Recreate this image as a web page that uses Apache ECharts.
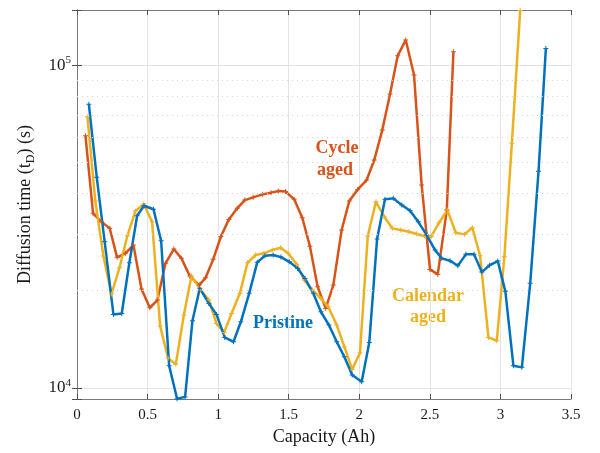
<!DOCTYPE html>
<html>
<head>
<meta charset="utf-8">
<script src="https://cdn.jsdelivr.net/npm/echarts@6/dist/echarts.min.js"></script>
<style>
  html, body { margin: 0; padding: 0; background: #fff; }
  #main { width: 600px; height: 453px; }
</style>
</head>
<body>
<div id="main"></div>
<script>
// capacity (Ah) and diffusion time (s)
var pristineX = [0.084,0.140,0.196,0.258,0.317,0.371,0.426,0.475,0.542,0.596,0.653,0.709,0.766,0.818,0.870,0.934,0.988,1.047,1.109,1.161,1.220,1.277,1.331,1.390,1.445,1.504,1.563,1.615,1.674,1.728,1.785,1.840,1.894,1.950,2.017,2.071,2.126,2.182,2.241,2.301,2.360,2.418,2.478,2.537,2.584,2.643,2.698,2.755,2.813,2.868,2.922,2.981,3.035,3.092,3.152,3.211,3.270,3.322];
var pristineY = [75700,44950,28380,16890,17000,24420,34170,36690,35800,28580,11700,9250,9370,16140,20340,18270,16890,14330,13890,16020,19630,24490,25670,25800,25430,24590,23460,21840,19630,17210,15650,13890,12480,10950,10440,13830,28920,38410,38680,36870,35400,32720,29760,26740,25200,24770,23900,25930,25930,22850,23970,24720,19910,11700,11570,21080,46910,112900];

var cycleX = [0.060,0.114,0.173,0.232,0.284,0.343,0.400,0.457,0.516,0.570,0.627,0.686,0.740,0.799,0.866,0.911,0.965,1.019,1.076,1.135,1.189,1.248,1.315,1.374,1.426,1.478,1.539,1.596,1.650,1.705,1.762,1.816,1.875,1.929,1.989,2.052,2.106,2.163,2.218,2.272,2.329,2.388,2.442,2.501,2.556,2.620,2.667];
var cycleY = [60470,34760,32720,31220,25380,26120,27700,20240,17710,18710,24320,26930,25200,22210,20820,21940,25020,29410,33290,36020,38210,38960,39800,40250,40740,40600,38410,33680,27500,20570,17630,20820,30850,37940,41240,44080,50850,63000,81480,107100,119800,93300,42540,23290,22470,35580,110200];

var calendarX = [0.074,0.130,0.187,0.244,0.301,0.357,0.414,0.473,0.532,0.589,0.646,0.700,0.757,0.811,0.877,0.934,0.988,1.043,1.095,1.154,1.208,1.265,1.324,1.383,1.442,1.496,1.556,1.610,1.667,1.728,1.780,1.840,1.894,1.950,2.005,2.060,2.118,2.177,2.234,2.294,2.352,2.407,2.461,2.509,2.565,2.624,2.684,2.745,2.801,2.856,2.915,2.974,3.028,3.081,3.140];
var calendarY = [69270,37940,25620,19530,23560,29620,35330,37130,32720,15540,12340,11820,16810,22210,20090,18710,15840,14850,17010,19630,24420,25800,26120,26740,27190,26120,24150,21590,20090,18940,17830,15650,13410,11410,12840,29550,37750,33920,31220,30850,30470,29980,29550,29410,32500,35580,30260,29910,31360,25670,14330,13990,25490,57300,148000];

var minorGrid = [20000,30000,40000,50000,60000,70000,80000,90000];

var blue = '#0072BD', orange = '#D95319', yellow = '#EDB120';
var serif = 'Liberation Serif';

function pairs(xs, ys) {
    var out = [];
    for (var i = 0; i < xs.length; i++) out.push([xs[i], ys[i]]);
    return out;
}

var plusMark = 'path://M4,0h2v4h4v2h-4v4h-2v-4h-4v-2h4z';

function lineSeries(name, xs, ys, color) {
    return {
        name: name,
        type: 'line',
        data: pairs(xs, ys),
        symbol: plusMark,
        symbolSize: 5,
        showSymbol: true,
        lineStyle: { color: color, width: 2.5 },
        itemStyle: { color: color },
        z: 3
    };
}

var chart = echarts.init(document.getElementById('main'));

var option = {
    animation: false,
    grid: { left: 77, right: 29, top: 10, bottom: 54 },
    xAxis: [{
        type: 'value', min: 0, max: 3.5, interval: 0.5,
        name: 'Capacity (Ah)', nameLocation: 'middle', nameGap: 27,
        nameTextStyle: { fontFamily: serif, fontSize: 18, color: '#1a1a1a' },
        axisLine: { show: true, lineStyle: { color: '#7a7a7a', width: 1 } },
        axisTick: { show: true, inside: true, length: 5, lineStyle: { color: '#505050' } },
        axisLabel: { fontFamily: serif, fontSize: 15, color: '#1a1a1a', margin: 9 },
        splitLine: { show: true, lineStyle: { color: '#e3e3e3', width: 1 } }
    }, {
        type: 'value', min: 0, max: 3.5, interval: 0.5, position: 'top',
        axisLine: { show: true, lineStyle: { color: '#7a7a7a', width: 1 } },
        axisTick: { show: true, inside: true, length: 5, lineStyle: { color: '#505050' } },
        axisLabel: { show: false },
        splitLine: { show: false }
    }],
    yAxis: [{
        type: 'log', logBase: 10, min: 9230, max: 148500,
        name: '{a|Diffusion time (t}{sub|D}{a|) (s)}',
        nameLocation: 'middle', nameGap: 40,
        nameTextStyle: {
            rich: {
                a: { fontFamily: serif, fontSize: 18, color: '#1a1a1a' },
                sub: { fontFamily: serif, fontSize: 12, color: '#1a1a1a', padding: [11, 0, 0, 0] }
            }
        },
        axisLine: { show: true, lineStyle: { color: '#7a7a7a', width: 1 } },
        axisTick: { show: true, inside: true, length: 5, lineStyle: { color: '#505050' } },
        axisLabel: {
            fontFamily: serif, fontSize: 17, color: '#1a1a1a', margin: 6,
            formatter: function (v) {
                var e = Math.log10(v);
                if (Math.abs(e - Math.round(e)) < 1e-6) return '{b|10}{sup|' + Math.round(e) + '}';
                return '';
            },
            rich: {
                b: { fontFamily: serif, fontSize: 17, color: '#1a1a1a' },
                sup: { fontFamily: serif, fontSize: 11, color: '#1a1a1a', padding: [0, 0, 10, 0] }
            }
        },
        splitLine: { show: true, lineStyle: { color: '#e3e3e3', width: 1 } }
    }, {
        type: 'log', logBase: 10, min: 9230, max: 148500, position: 'right',
        axisLine: { show: true, lineStyle: { color: '#7a7a7a', width: 1 } },
        axisTick: { show: true, inside: true, length: 5, lineStyle: { color: '#505050' } },
        axisLabel: { show: false },
        splitLine: { show: false }
    }],
    series: [
        {
            type: 'line', data: [], silent: true, z: 1,
            markLine: {
                silent: true, symbol: 'none', animation: false,
                label: { show: false },
                lineStyle: { color: '#d4d4d4', type: [1, 4], width: 1 },
                data: minorGrid.map(function (v) { return { yAxis: v }; })
            }
        },
        lineSeries('Cycle aged', cycleX, cycleY, orange),
        lineSeries('Calendar aged', calendarX, calendarY, yellow),
        lineSeries('Pristine', pristineX, pristineY, blue)
    ],
    graphic: [
        { type: 'text', x: 337, y: 148, style: { text: 'Cycle', fill: orange, fontFamily: serif, fontSize: 18, fontWeight: 'bold', align: 'center', verticalAlign: 'middle' } },
        { type: 'text', x: 335, y: 170, style: { text: 'aged', fill: orange, fontFamily: serif, fontSize: 18, fontWeight: 'bold', align: 'center', verticalAlign: 'middle' } },
        { type: 'text', x: 283, y: 323, style: { text: 'Pristine', fill: blue, fontFamily: serif, fontSize: 18, fontWeight: 'bold', align: 'center', verticalAlign: 'middle' } },
        { type: 'text', x: 428, y: 296, style: { text: 'Calendar', fill: yellow, fontFamily: serif, fontSize: 18, fontWeight: 'bold', align: 'center', verticalAlign: 'middle' } },
        { type: 'text', x: 428, y: 317, style: { text: 'aged', fill: yellow, fontFamily: serif, fontSize: 18, fontWeight: 'bold', align: 'center', verticalAlign: 'middle' } }
    ]
};

chart.setOption(option);
</script>
</body>
</html>
